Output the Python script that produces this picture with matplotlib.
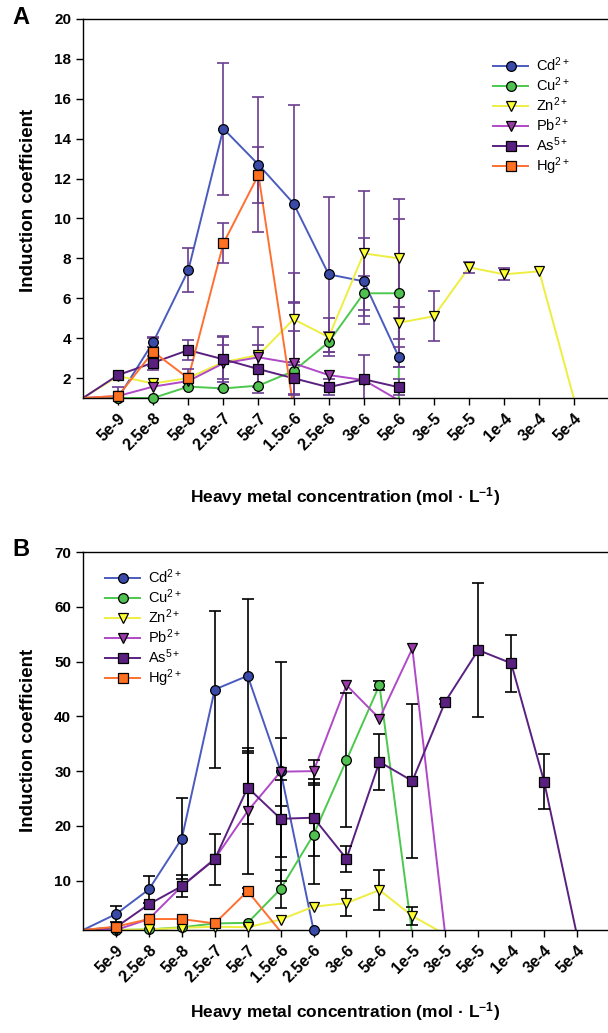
import matplotlib
matplotlib.use('Agg')
import matplotlib.pyplot as plt
from matplotlib.lines import Line2D

plt.rcParams['font.family'] = ['Liberation Sans', 'DejaVu Sans']
plt.rcParams['mathtext.fontset'] = 'custom'
plt.rcParams['mathtext.rm'] = 'Liberation Sans'
plt.rcParams['mathtext.it'] = 'Liberation Sans:italic'
plt.rcParams['mathtext.bf'] = 'Liberation Sans:bold'

# ---- panel A data ----
cats_a = ['', '5e-9', '2.5e-8', '5e-8', '2.5e-7', '5e-7', '1.5e-6', '2.5e-6',
          '3e-6', '5e-6', '3e-5', '5e-5', '1e-4', '3e-4', '5e-4']

cd_a_x = ['', '5e-9', '2.5e-8', '5e-8', '2.5e-7', '5e-7', '1.5e-6', '2.5e-6', '3e-6', '5e-6']
cd_a_y = [1.0, 1.0, 3.8, 7.4, 14.5, 12.7, 10.75, 7.2, 6.85, 3.05]
cd_a_e = [0, 0, 0.25, 1.1, 3.3, 3.4, 4.95, 3.9, 2.15, 0.5]

cu_a_x = ['', '5e-9', '2.5e-8', '5e-8', '2.5e-7', '5e-7', '1.5e-6', '2.5e-6', '3e-6', '5e-6', '5e-6']
cu_a_y = [1.0, 1.0, 1.0, 1.57, 1.48, 1.62, 2.35, 3.8, 6.25, 6.25, 0.0]
cu_a_e = [0, 0, 0, 0, 0, 0, 3.4, 0.5, 0.85, 3.7, 0]

zn_a_x = ['', '5e-9', '2.5e-8', '5e-8', '2.5e-7', '5e-7', '1.5e-6', '2.5e-6', '3e-6', '5e-6',
          '5e-6', '3e-5', '5e-5', '1e-4', '3e-4', '5e-4']
zn_a_y = [1.0, 2.1, 1.73, 2.0, 2.8, 3.15, 4.95, 4.05, 8.25, 8.0, 4.77, 5.1, 7.55, 7.2, 7.35, 0.9]
zn_a_e = [0, 0, 0, 0, 0.86, 0, 2.3, 0.95, 3.15, 3.0, 0.8, 1.25, 0.28, 0.3, 0, 0]

pb_a_x = ['', '5e-9', '2.5e-8', '5e-8', '2.5e-7', '5e-7', '1.5e-6', '2.5e-6', '3e-6', '5e-6']
pb_a_y = [1.0, 1.1, 1.57, 1.85, 2.74, 3.04, 2.74, 2.15, 1.9, 0.88]
pb_a_e = [0, 0, 0, 0, 1.3, 1.5, 1.6, 0, 0, 0]

as_a_x = ['', '5e-9', '2.5e-8', '5e-8', '2.5e-7', '5e-7', '1.5e-6', '2.5e-6', '3e-6', '5e-6']
as_a_y = [1.0, 2.15, 2.77, 3.4, 2.94, 2.45, 1.99, 1.54, 1.94, 1.54]
as_a_e = [0, 0, 0.35, 0.5, 1.15, 1.2, 0.8, 0.4, 1.2, 0.4]

hg_a_x = ['', '5e-9', '2.5e-8', '5e-8', '2.5e-7', '5e-7', '1.5e-6']
hg_a_y = [1.0, 1.1, 3.32, 1.99, 8.75, 12.19, 0.47]
hg_a_e = [0, 0.45, 0.7, 0.45, 1.0, 1.4, 0]

# ---- panel B data ----
cats_b = ['', '5e-9', '2.5e-8', '5e-8', '2.5e-7', '5e-7', '1.5e-6', '2.5e-6',
          '3e-6', '5e-6', '1e-5', '3e-5', '5e-5', '1e-4', '3e-4', '5e-4']

cd_b_x = ['', '5e-9', '2.5e-8', '5e-8', '2.5e-7', '5e-7', '1.5e-6', '2.5e-6']
cd_b_y = [1.0, 3.9, 8.4, 17.7, 44.9, 47.4, 30.0, 1.0]
cd_b_e = [0, 1.5, 2.4, 7.4, 14.3, 14.0, 20.0, 0]

cu_b_x = ['', '5e-9', '2.5e-8', '5e-8', '2.5e-7', '5e-7', '1.5e-6', '2.5e-6', '3e-6', '5e-6', '1e-5']
cu_b_y = [1.0, 1.0, 1.1, 1.5, 2.2, 2.3, 8.5, 18.4, 32.0, 45.7, 0.0]
cu_b_e = [0, 0, 0, 0, 0, 0, 3.4, 9.0, 12.2, 0.8, 0]

zn_b_x = ['', '5e-9', '2.5e-8', '5e-8', '2.5e-7', '5e-7', '1.5e-6', '2.5e-6', '3e-6', '5e-6',
          '1e-5', '3e-5']
zn_b_y = [1.0, 1.0, 1.1, 1.4, 1.6, 1.5, 2.9, 5.25, 5.9, 8.3, 3.55, 0.2]
zn_b_e = [0, 0, 0, 0, 0, 0, 0, 0, 2.4, 3.6, 1.6, 0]

pb_b_x = ['', '5e-9', '2.5e-8', '5e-8', '2.5e-7', '5e-7', '1.5e-6', '2.5e-6', '3e-6', '5e-6',
          '1e-5', '3e-5']
pb_b_y = [1.0, 1.0, 3.0, 9.0, 14.0, 22.7, 29.9, 30.0, 45.7, 39.6, 52.4, 0.0]
pb_b_e = [0, 0, 0, 0, 0, 11.5, 6.2, 2.1, 0, 0, 0, 0]

as_b_x = ['', '5e-9', '2.5e-8', '5e-8', '2.5e-7', '5e-7', '1.5e-6', '2.5e-6', '3e-6', '5e-6',
          '1e-5', '3e-5', '5e-5', '1e-4', '3e-4', '5e-4']
as_b_y = [1.0, 1.5, 5.7, 9.0, 13.9, 27.0, 21.3, 21.5, 14.0, 31.7, 28.2, 42.7, 52.1, 49.7, 28.1, 0.0]
as_b_e = [0, 0, 0, 2.0, 4.7, 6.6, 7.0, 7.0, 2.35, 5.1, 14.0, 0.4, 12.3, 5.2, 5.0, 0]

hg_b_x = ['', '5e-9', '2.5e-8', '5e-8', '2.5e-7', '5e-7', '1.5e-6']
hg_b_y = [1.0, 1.6, 3.0, 3.0, 2.2, 8.1, 0.7]
hg_b_e = [0, 0, 0, 0, 0, 0.6, 0]

labels = ['Cd$^{2+}$', 'Cu$^{2+}$', 'Zn$^{2+}$', 'Pb$^{2+}$', 'As$^{5+}$', 'Hg$^{2+}$']
line_colors = ['#4a5bbf', '#4cc84c', '#eeee40', '#b048c8', '#5a2080', '#ff7030']
fill_colors = ['#3a4aa8', '#50c050', '#ffff30', '#9a3aa8', '#5a2080', '#ff7020']
markers = ['o', 'o', 'v', 'v', 's', 's']


def draw_panel(ax, cats, series, ecolor, ymin):
    for (xs, ys, es), lc, fc, mk in zip(series, line_colors, fill_colors, markers):
        pos = [cats.index(c) for c in xs]
        ax.plot(pos, ys, color=lc, lw=1.4, zorder=2)
        ep = [(p, y, e) for p, y, e in zip(pos, ys, es) if e > 0]
        if ep:
            ax.errorbar([p for p, _, _ in ep], [y for _, y, _ in ep],
                        yerr=[e for _, _, e in ep], fmt='none', ecolor=ecolor,
                        elinewidth=1.2, capsize=4, capthick=1.2, zorder=2.5)
        mp = [(p, y) for p, y in zip(pos, ys) if p > 0 and y >= ymin]
        ax.plot([p for p, _ in mp], [y for _, y in mp], ls='none', marker=mk,
                ms=7, mfc=fc, mec='black', mew=0.9, zorder=3, clip_on=False)


fig = plt.figure(figsize=(6.08, 10.33), dpi=100)
W, H = 608, 1033

axA = fig.add_axes([83 / W, 1 - 398 / H, 525 / W, 379 / H])
draw_panel(axA, cats_a,
           [(cd_a_x, cd_a_y, cd_a_e), (cu_a_x, cu_a_y, cu_a_e), (zn_a_x, zn_a_y, zn_a_e),
            (pb_a_x, pb_a_y, pb_a_e), (as_a_x, as_a_y, as_a_e), (hg_a_x, hg_a_y, hg_a_e)],
           '#6b3d8f', 1)
axA.set_xlim(0, 14.96)
axA.set_ylim(1, 20)
axA.set_yticks(range(2, 21, 2))
axA.set_xticks(range(1, len(cats_a)))
axA.set_xticklabels(cats_a[1:])

axB = fig.add_axes([83 / W, 1 - 930 / H, 525 / W, 378 / H])
draw_panel(axB, cats_b,
           [(cd_b_x, cd_b_y, cd_b_e), (cu_b_x, cu_b_y, cu_b_e), (zn_b_x, zn_b_y, zn_b_e),
            (pb_b_x, pb_b_y, pb_b_e), (as_b_x, as_b_y, as_b_e), (hg_b_x, hg_b_y, hg_b_e)],
           'black', 1)
axB.set_xlim(0, 15.94)
axB.set_ylim(1, 70)
axB.set_yticks(range(10, 71, 10))
axB.set_xticks(range(1, len(cats_b)))
axB.set_xticklabels(cats_b[1:])

for ax in (axA, axB):
    ax.spines['right'].set_visible(False)
    for s in ('left', 'bottom', 'top'):
        ax.spines[s].set_linewidth(1.0)
    ax.tick_params(direction='out', length=5, width=1.0, labelsize=11)
    ax.tick_params(axis='x', labelsize=11.5, pad=4)
    for t in ax.get_yticklabels():
        t.set_fontweight('bold')
    for t in ax.get_xticklabels():
        t.set_fontweight('bold')
        t.set_rotation(45)
        t.set_ha('right')
        t.set_rotation_mode('anchor')

handles = [Line2D([], [], color=lc, lw=1.4, marker=mk, ms=7, mfc=fc, mec='black', mew=0.9)
           for lc, fc, mk in zip(line_colors, fill_colors, markers)]
fig.legend(handles, labels, loc='upper left', bbox_to_anchor=(486 / W, 1 - 48 / H),
           frameon=False, fontsize=10.5, handlelength=2.4, handletextpad=0.55,
           labelspacing=0.1, borderpad=0)
fig.legend(handles, labels, loc='upper left', bbox_to_anchor=(98 / W, 1 - 560 / H),
           frameon=False, fontsize=10.5, handlelength=2.4, handletextpad=0.55,
           labelspacing=0.1, borderpad=0)

xlab = 'Heavy metal concentration (mol \u00b7 L$^{\\mathbf{-1}}$)'
fig.text(345 / W, 1 - 497 / H, xlab, ha='center', va='center', fontsize=12.5, fontweight='bold')
fig.text(345 / W, 1 - 1012 / H, xlab, ha='center', va='center', fontsize=12.5, fontweight='bold')
fig.text(29 / W, 1 - 200 / H, 'Induction coefficient', rotation=90, ha='center', va='center',
         fontsize=13.5, fontweight='bold')
fig.text(29 / W, 1 - 740 / H, 'Induction coefficient', rotation=90, ha='center', va='center',
         fontsize=13.5, fontweight='bold')
fig.text(21 / W, 1 - 18 / H, 'A', ha='center', va='center', fontsize=17, fontweight='bold')
fig.text(21 / W, 1 - 549 / H, 'B', ha='center', va='center', fontsize=17, fontweight='bold')

fig.savefig('out.png', dpi=100)
